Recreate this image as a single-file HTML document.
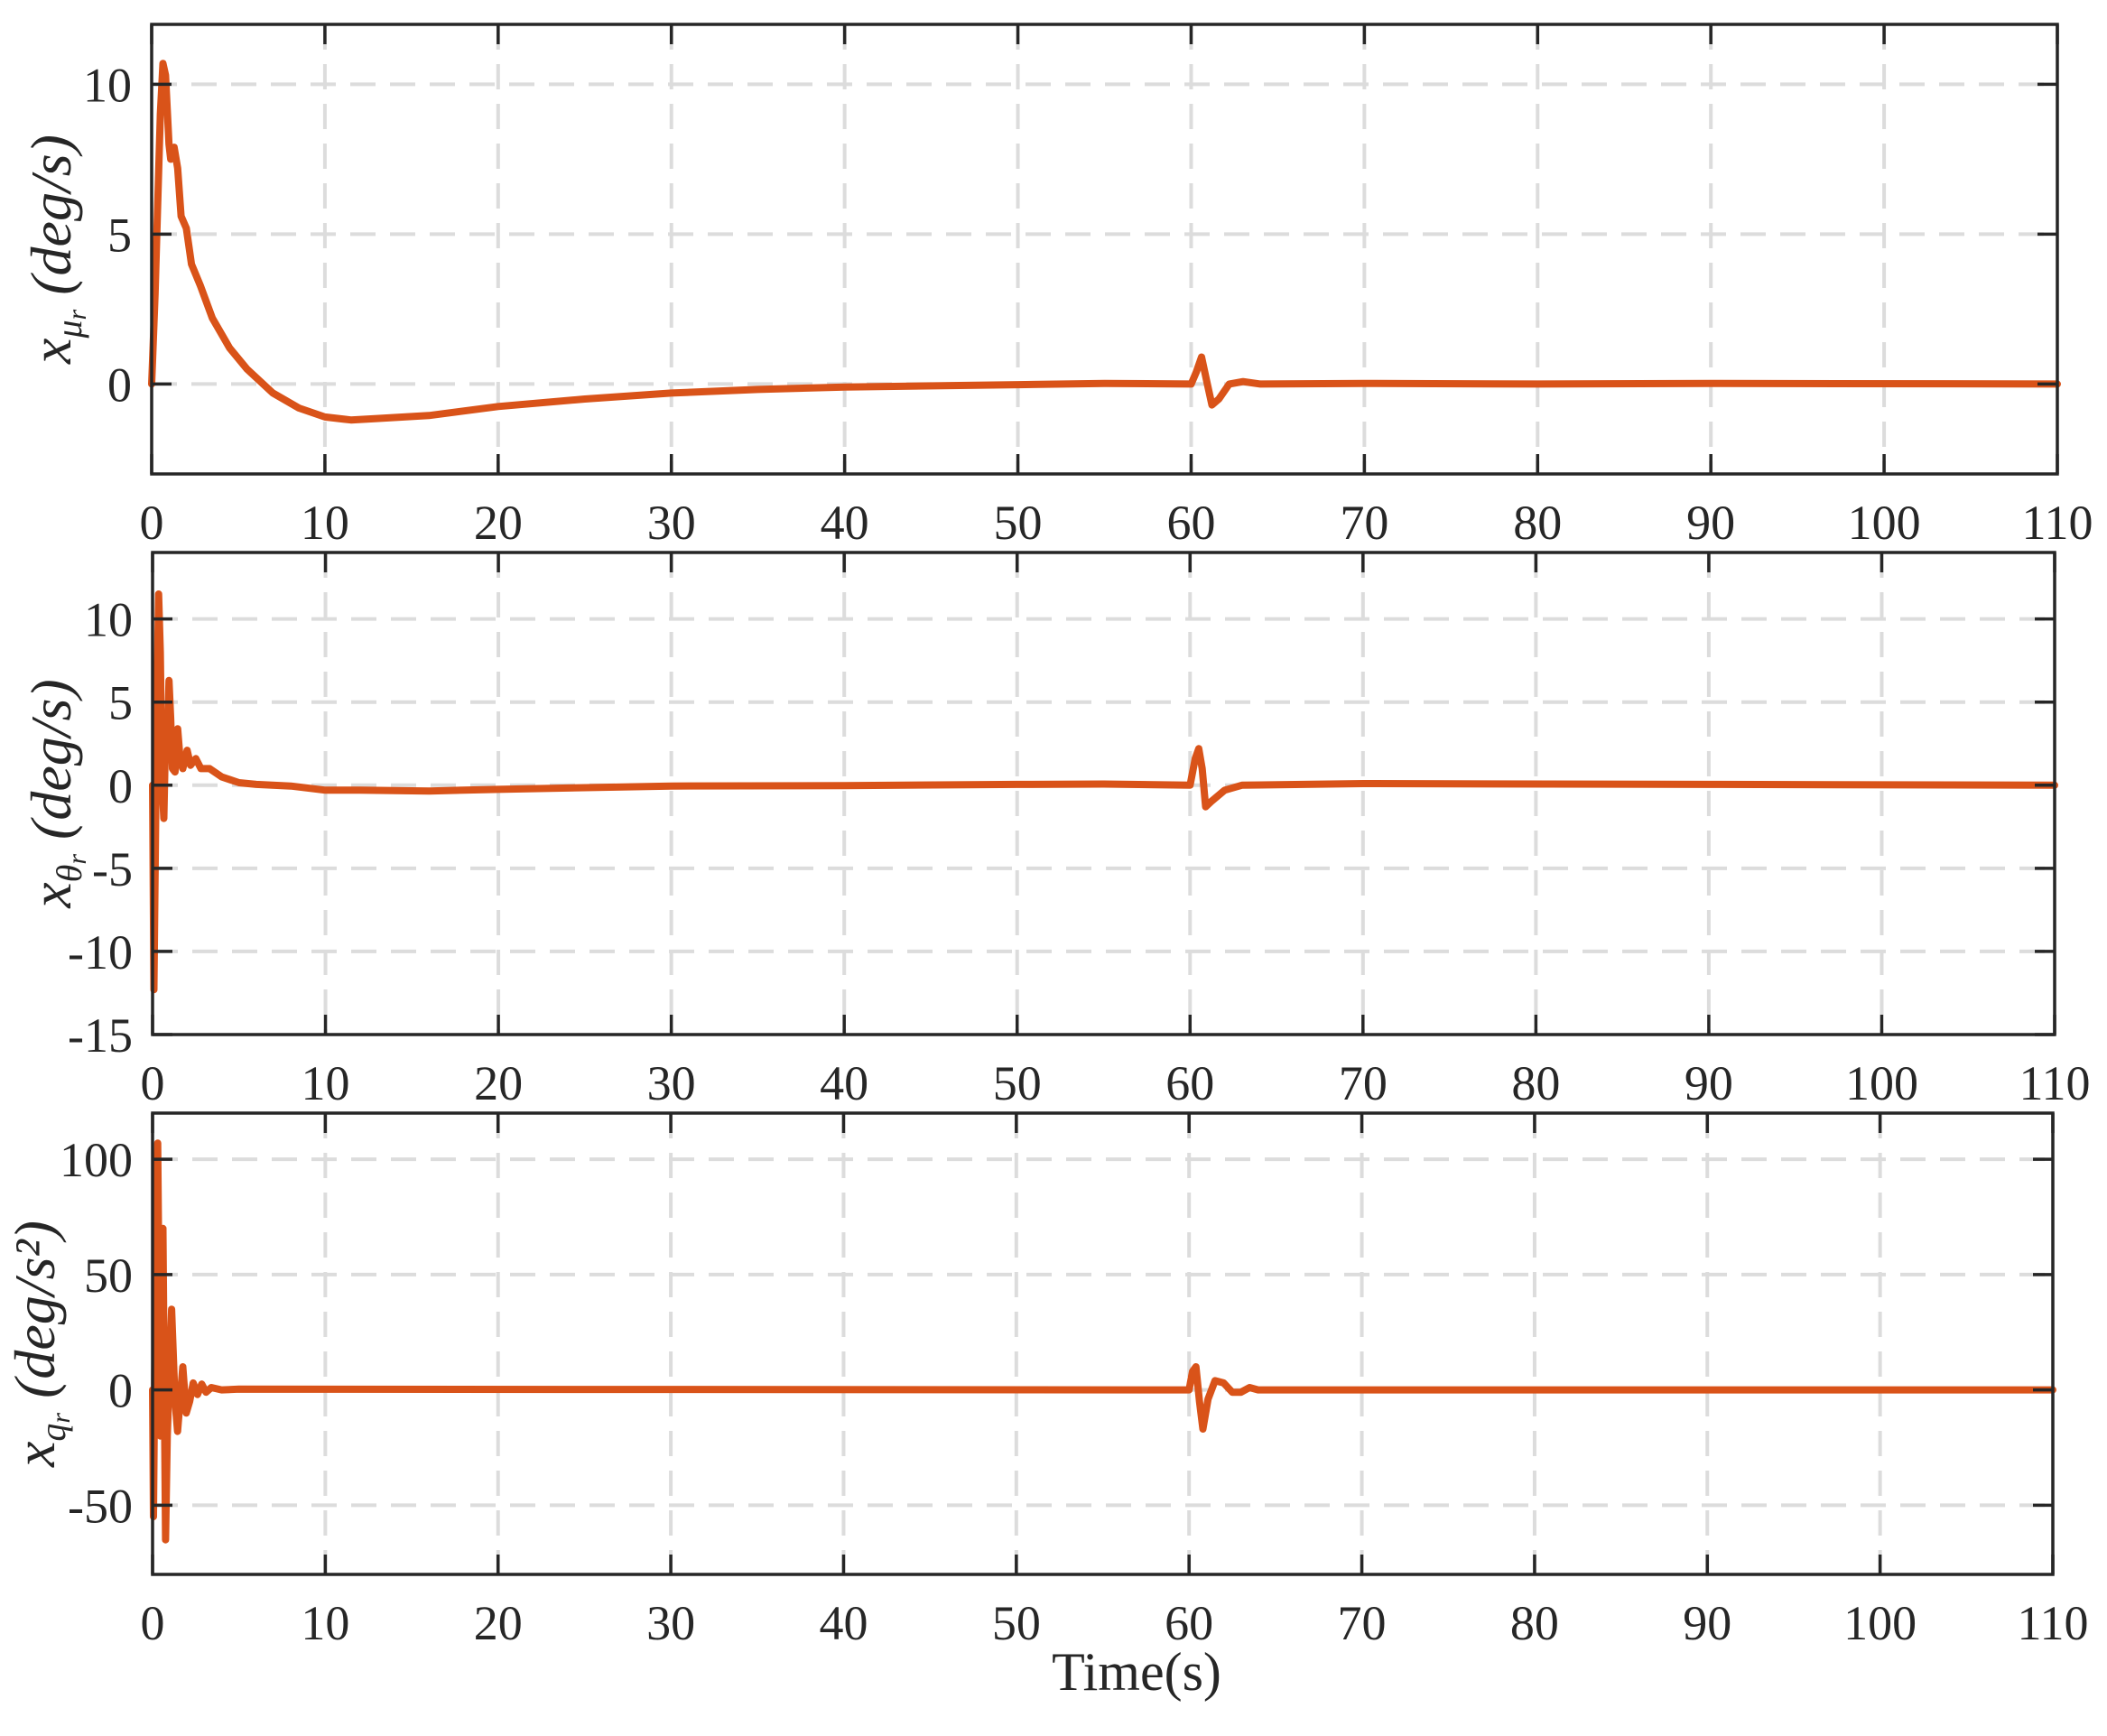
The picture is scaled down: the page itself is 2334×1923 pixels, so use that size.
<!DOCTYPE html>
<html><head><meta charset="utf-8">
<style>
html,body{margin:0;padding:0;background:#fff;}
svg{display:block;}
text{font-family:"Liberation Serif",serif;fill:#262626;}
</style></head>
<body>
<svg id="chart" width="2334" height="1923" viewBox="0 0 2334 1923" xmlns="http://www.w3.org/2000/svg">
<rect width="2334" height="1923" fill="#fff"/>
</svg>
<script>
const xTicks = [0,10,20,30,40,50,60,70,80,90,100,110];
// Panel 1: x_mu_r (deg/s)
const t1 = [0,0.2,0.5,0.65,0.8,1.0,1.1,1.3,1.5,1.7,2.0,2.3,2.8,3.5,4.5,5.5,7,8.5,10,11.5,13,16,20,25,30,35,40,50,55,60,60.3,60.6,60.9,61.2,61.6,62.2,63,64,70,80,90,110];
const v1 = [0,3,9,10.7,10.3,8,7.5,7.9,7.2,5.6,5.2,4.0,3.3,2.2,1.2,0.5,-0.3,-0.8,-1.1,-1.2,-1.15,-1.05,-0.75,-0.5,-0.3,-0.18,-0.1,-0.02,0.02,0,0.4,0.9,0.1,-0.7,-0.5,0,0.08,0,0.02,0,0.02,0];
const yTicks1 = [0,5,10];
// Panel 2: x_theta_r (deg/s)
const t2 = [0,0.08,0.15,0.25,0.35,0.45,0.55,0.65,0.75,0.85,0.95,1.05,1.15,1.3,1.45,1.6,1.75,2.0,2.2,2.5,2.8,3.3,4,5,6,8,10,12,16,20,30,40,50,55,60,60.3,60.5,60.7,60.9,61.2,62,63,70,90,110];
const v2 = [0,-12.3,-5,5,11.5,8,0,-2,3,2,6.3,4,1,0.8,3.4,1.5,1.0,2.1,1.2,1.6,1.0,1.0,0.5,0.15,0.05,-0.05,-0.3,-0.3,-0.35,-0.25,-0.05,-0.02,0.05,0.07,0,1.6,2.2,1.0,-1.3,-1.0,-0.3,0,0.1,0.05,0];
const yTicks2 = [-15,-10,-5,0,5,10];
// Panel 3: x_q_r (deg/s^2)
const t3 = [0,0.05,0.15,0.3,0.45,0.6,0.75,0.85,1.1,1.3,1.45,1.75,1.95,2.15,2.35,2.6,2.85,3.1,3.4,4,5,60,60.2,60.4,60.6,60.8,61.1,61.5,62,62.5,63,63.5,64,110];
const v3 = [0,-55,30,107,-20,70,-65,-20,35,-5,-18,10,-10,-5,3,-2,2.5,-1,1,0,0.3,0,8,10,-5,-17,-4,4,3,-1,-1,1,0,0];
const yTicks3 = [-50,0,50,100];

const NS="http://www.w3.org/2000/svg";
const svg=document.getElementById('chart');
function mk(tag,attrs,parent){const e=document.createElementNS(NS,tag);for(const k in attrs)e.setAttribute(k,attrs[k]);(parent||svg).appendChild(e);return e;}

const panels=[
 {name:'mu',t:t1,v:v1,yt:yTicks1,ymin:-3,ymax:12,L:168,R:2279,T:27,B:525},
 {name:'theta',t:t2,v:v2,yt:yTicks2,ymin:-15,ymax:14,L:169,R:2276,T:612,B:1146},
 {name:'q',t:t3,v:v3,yt:yTicks3,ymin:-80,ymax:120,L:169,R:2274,T:1233,B:1744}
];
const labels=[
 {main:'x',sub:'μ',sub2:'r',unit:'(deg/s)'},
 {main:'x',sub:'θ',sub2:'r',unit:'(deg/s)'},
 {main:'x',sub:'q',sub2:'r',unit:'(deg/s²)'}
];
panels.forEach((p,i)=>{
 const g=mk('g',{});
 
 
 const xs=x=>p.L+(x-0)/(110-0)*(p.R-p.L);
 const ys=y=>p.B-(y-p.ymin)/(p.ymax-p.ymin)*(p.B-p.T);
 xTicks.forEach(x=>{ if(x>0&&x<110){const l=mk('line',{x1:xs(x),x2:xs(x),y1:p.T,y2:p.B,stroke:'#dcdcdc','stroke-width':4,'stroke-dasharray':'28 16'},g);
  
  }});
 p.yt.forEach(y=>{ if(y>p.ymin&&y<p.ymax){const l=mk('line',{x1:p.L,x2:p.R,y1:ys(y),y2:ys(y),stroke:'#dcdcdc','stroke-width':4,'stroke-dasharray':'28 16'},g);
  
  }});
 let d='';p.t.forEach((t,k)=>{d+=(k?'L':'M')+xs(t).toFixed(1)+' '+ys(p.v[k]).toFixed(1);});
 const path=mk('path',{d:d,fill:'none',stroke:'#D95319','stroke-width':8,'stroke-linejoin':'round','stroke-linecap':'round'},g);
 
 
 xTicks.forEach(x=>{
  mk('line',{x1:xs(x),x2:xs(x),y1:p.B,y2:p.B-22,stroke:'#262626','stroke-width':3.5},g);
  mk('line',{x1:xs(x),x2:xs(x),y1:p.T,y2:p.T+22,stroke:'#262626','stroke-width':3.5},g);
  const tx=mk('text',{x:xs(x),y:p.B+72,'text-anchor':'middle','font-size':54},g);
  tx.textContent=x;
  
  
 });
 p.yt.forEach(y=>{
  mk('line',{x1:p.L,x2:p.L+22,y1:ys(y),y2:ys(y),stroke:'#262626','stroke-width':3.5},g);
  mk('line',{x1:p.R,x2:p.R-22,y1:ys(y),y2:ys(y),stroke:'#262626','stroke-width':3.5},g);
  const tx=mk('text',{x:p.L-22,y:ys(y)+19,'text-anchor':'end','font-size':54},g);
  tx.textContent=y;
  
  
 });
 const box=mk('rect',{x:p.L,y:p.T,width:p.R-p.L,height:p.B-p.T,fill:'none',stroke:'#262626','stroke-width':3.5},g);
 
 
 const lb=labels[i];
 const cy=(p.T+p.B)/2;
 const yl=mk('text',{transform:'translate('+(i==2?60:78)+','+cy+') rotate(-90)','text-anchor':'middle','font-size':64},g);
 
 
 const s1=mk('tspan',{'font-style':'italic'},yl);s1.textContent=lb.main;
 const s2=mk('tspan',{'font-style':'italic','font-size':40,dy:12},yl);s2.textContent=lb.sub;
 const s3=mk('tspan',{'font-style':'italic','font-size':30,dy:5},yl);s3.textContent=lb.sub2;
 const s4=mk('tspan',{dy:-17,'font-style':'italic'},yl);s4.textContent=' '+lb.unit;
});
const xl=mk('text',{x:1259,y:1872,'text-anchor':'middle','font-size':60});
xl.textContent='Time(s)';


</script>
</body></html>
